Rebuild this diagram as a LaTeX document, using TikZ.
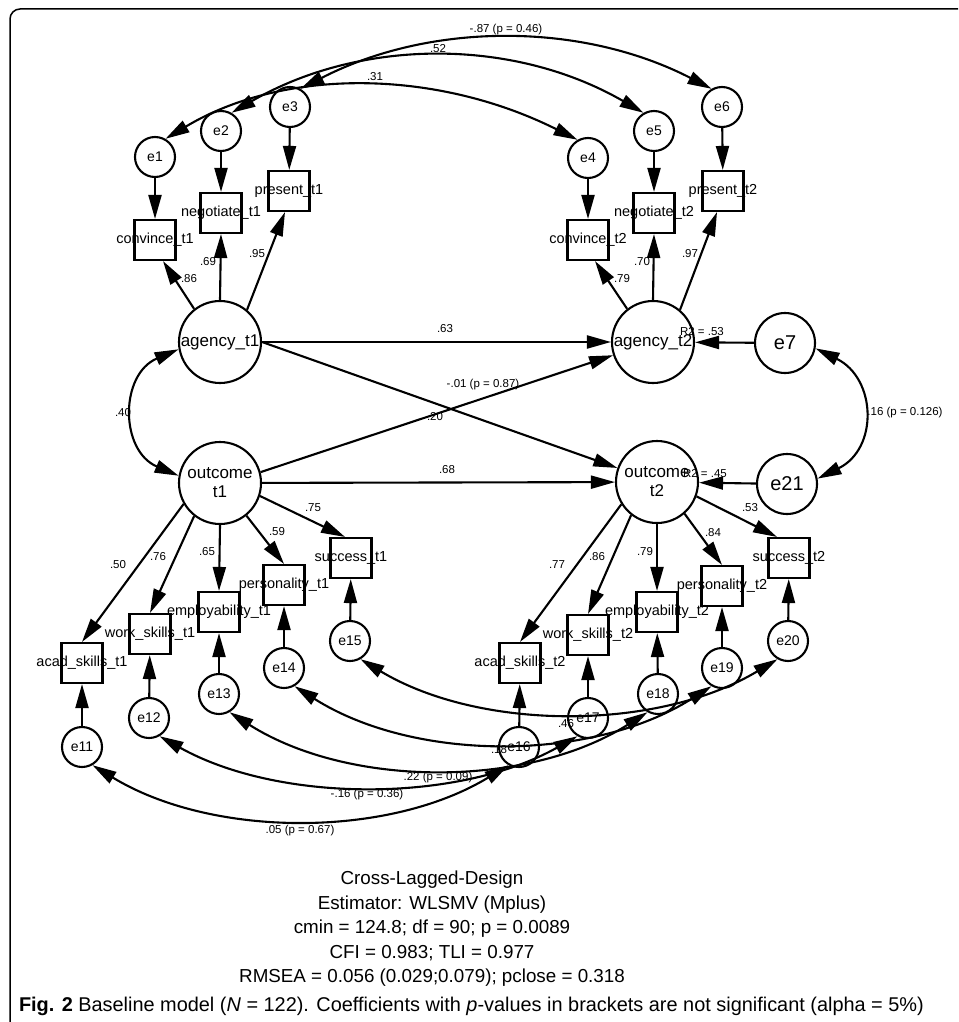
\documentclass[tikz,border=0pt]{standalone}
\usepackage{fontspec}
\setmainfont{Liberation Sans}
\usetikzlibrary{arrows.meta}
\tikzset{
  latent/.style={circle, draw, minimum size=82pt, inner sep=0pt, align=center, font=\fontsize{17}{19}\selectfont},
  err/.style={circle, draw, minimum size=40pt, inner sep=0pt, font=\fontsize{14}{14}\selectfont},
  bigerr/.style={circle, draw, minimum size=60pt, inner sep=0pt, font=\fontsize{20}{20}\selectfont},
  obs/.style={draw, minimum width=41pt, minimum height=40pt, inner sep=0pt, font=\fontsize{14.5}{14.5}\selectfont},
  coef/.style={font=\fontsize{11.5}{11.5}\selectfont, inner sep=0pt},
  reg/.style={-{Triangle[length=24pt,width=13pt]}},
  cov/.style={{Triangle[length=24pt,width=13pt]}-{Triangle[length=24pt,width=13pt]}}
}
\newcommand{\boxtxt}[1]{\makebox[0pt]{#1}}

\begin{document}
\begin{tikzpicture}[x=1pt, y=-1pt, line width=2.1pt]
  \useasboundingbox (0,0) rectangle (958,1022);
  % frame
  \draw[line width=1.5pt, rounded corners=10pt] (10,1022) -- (10,9) -- (958,9);

  % latent variables
  \node[latent] (agency1) at (220,342) {agency\_t1};
  \node[latent] (agency2) at (653,342) {agency\_t2};
  \node[latent] (outcome1) at (220,483) {outcome\\t1};
  \node[latent] (outcome2) at (657,482) {outcome\\t2};
  \node[bigerr] (e7) at (785,343) {e7};
  \node[bigerr] (e21) at (787,484) {e21};

  % observed indicators
  \foreach \n/\x/\y/\t in {convince1/155/240/convince\_t1, negotiate1/221/213/negotiate\_t1,
      present1/289/191/present\_t1, convince2/588/240/convince\_t2,
      negotiate2/654/213/negotiate\_t2, present2/723/191/present\_t2,
      acad1/82/663/acad\_skills\_t1, work1/150/634/work\_skills\_t1,
      employ1/219/612/employability\_t1, person1/284/585/personality\_t1,
      success1/351/558/success\_t1, acad2/520/663/acad\_skills\_t2,
      work2/588/635/work\_skills\_t2, employ2/657/612/employability\_t2,
      person2/722/586/personality\_t2, success2/789/558/success\_t2}
    \node[obs] (\n) at (\x,\y) {\boxtxt{\t}};

  % residuals
  \foreach \n/\x/\y in {e1/155/157, e2/221/131, e3/290/107, e4/588/158, e5/654/131,
      e6/722/107, e11/82/747, e12/149/718, e13/219/694, e14/284/668, e15/350/641,
      e16/519/747, e17/588/718, e18/658/694, e19/722/668, e20/788/641}
    \node[err] (\n) at (\x,\y) {\n};

  % residual -> indicator
  \foreach \a/\b in {e1/convince1, e2/negotiate1, e3/present1, e4/convince2,
      e5/negotiate2, e6/present2, e11/acad1, e12/work1, e13/employ1, e14/person1,
      e15/success1, e16/acad2, e17/work2, e18/employ2, e19/person2, e20/success2}
    \draw[reg] (\a) -- (\b);

  % loadings
  \draw[reg] (agency1.128) -- ([xshift=8pt]convince1.south);
  \draw[reg] (agency1.north) -- (negotiate1.south);
  \draw[reg] (agency1.50) -- ([xshift=-4pt]present1.south);
  \draw[reg] (agency2.128) -- ([xshift=7pt]convince2.south);
  \draw[reg] (agency2.north) -- (negotiate2.south);
  \draw[reg] (agency2.50) -- ([xshift=-6pt]present2.south);
  \foreach \a/\b in {210/acad1, 232/work1, 270/employ1, 309/person1}
    \draw[reg] (outcome1.\a) -- (\b.north);
  \draw[reg] (outcome1.-18) -- ([xshift=-6pt]success1.north);
  \foreach \a/\b in {212/acad2, 232/work2, 270/employ2, 311/person2}
    \draw[reg] (outcome2.\a) -- (\b.north);
  \draw[reg] (outcome2.-20) -- ([xshift=-12pt]success2.north);

  % structural paths
  \draw[reg] (agency1) -- (agency2);
  \draw[reg] (agency1.east) -- (outcome2);
  \draw[reg] (outcome1.15) -- (agency2);
  \draw[reg] (outcome1) -- (outcome2);
  \draw[reg] (e7) -- (agency2);
  \draw[reg] (e21) -- (outcome2);

  % covariances
  \draw[cov] (agency1.190) .. controls +(-59,25) and +(-59,-25) .. (outcome1.170);
  \draw[cov] (e7.-10) .. controls +(61,30) and +(61,-30) .. (e21.10);
  \draw[cov] (e1.60) .. controls +(120,-72) and +(-140,-70) .. (e4.120);
  \draw[cov] (e2.60) .. controls +(130,-75) and +(-130,-75) .. (e5.120);
  \draw[cov] (e3.60) .. controls +(130,-67) and +(-130,-67) .. (e6.120);
  \foreach \a/\b/\h in {e11/e16/73, e12/e17/67, e13/e18/76, e14/e19/76, e15/e20/72}
    \draw[cov] (\a.-60) .. controls +(120,\h) and +(-120,\h) .. (\b.-120);

  % coefficients
  \foreach \x/\y/\t [count=\i] in {375/77/.31, 438/49/.52, 506/30/-.87 (p = 0.46),
      189/279/.86, 208/262/.69, 257/254/.95, 622/279/.79, 642/262/.70, 690/254/.97,
      445/329/.63, 483/385/-.01 (p = 0.87), 435/417/.20, 447/470/.68, 123/413/.40,
      905/413/.16 (p = 0.126), 702/332/R2 = .53, 705/474/R2 = .45,
      118/565/.50, 158/557/.76, 207/552/.65, 277/532/.59, 313/508/.75,
      557/565/.77, 597/557/.86, 645/552/.79, 713/533/.84, 750/508/.53,
      300/831/.05 (p = 0.67), 367/795/-.16 (p = 0.36), 438/778/.22 (p = 0.09),
      499/750/.18, 566/724/.46}
    \node[coef] (c\i) at (\x,\y) {\t};

  % fit information and caption
  \node[align=center, font=\fontsize{18.8}{24.5}\selectfont] (fitinfo) at (432,929)
    {Cross-Lagged-Design\\Estimator: WLSMV (Mplus)\\cmin = 124.8; df = 90; p = 0.0089\\
     CFI = 0.983; TLI = 0.977\\RMSEA = 0.056 (0.029;0.079); pclose = 0.318};
  \node[anchor=west, inner sep=0pt, font=\fontsize{19.9}{20}\selectfont] (caption) at (18,1006)
    {\textbf{Fig. 2} Baseline model (\textit{N} = 122). Coefficients with \textit{p}-values in brackets are not significant (alpha = 5\%)};
\end{tikzpicture}
\end{document}
